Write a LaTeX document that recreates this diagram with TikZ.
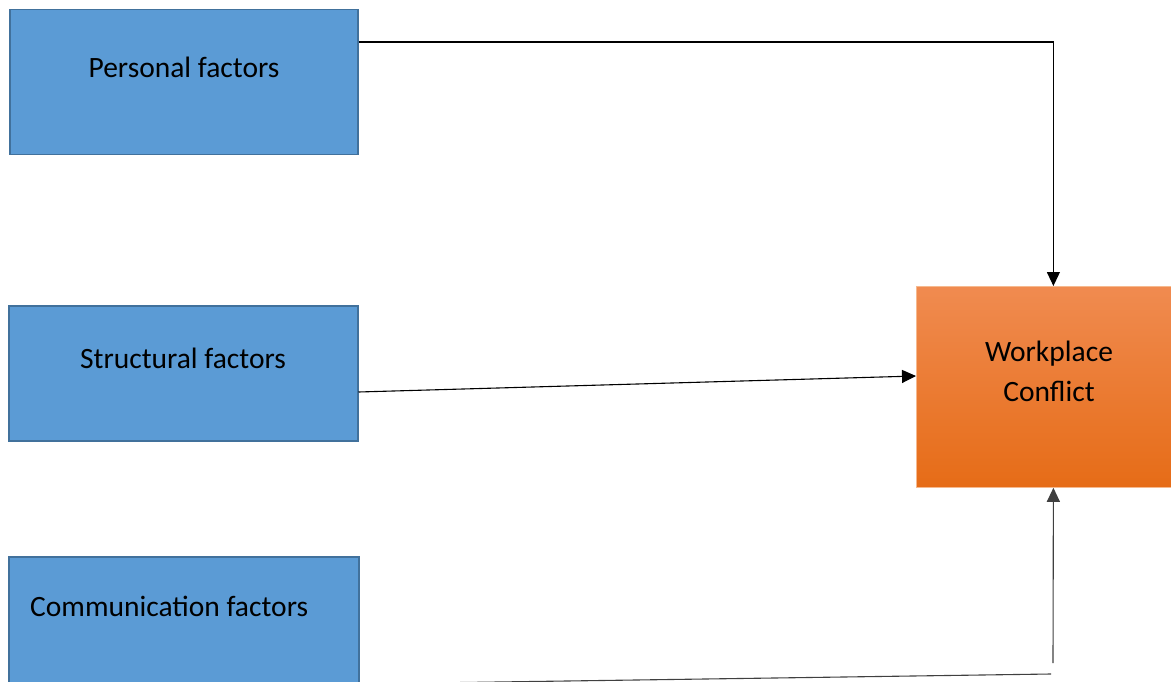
\documentclass[tikz,border=0pt]{standalone}
\usepackage{fontspec}
\setmainfont{Carlito}
\usetikzlibrary{arrows.meta,calc}
\definecolor{boxblue}{HTML}{5B9BD5}
\definecolor{boxedge}{HTML}{41719C}
\definecolor{orangetop}{HTML}{F08B50}
\definecolor{orangemid}{HTML}{F27B2A}
\definecolor{orangebot}{HTML}{E66C17}
\definecolor{orangeedge}{HTML}{F6B98E}

\begin{document}
\begin{tikzpicture}[x=1pt,y=-1pt,
  factor/.style={rectangle,draw=boxedge,line width=1.5pt,fill=boxblue,
    inner sep=0pt,anchor=north west},
  outcome/.style={rectangle,draw=orangeedge,line width=0.8pt,
    top color=orangetop,middle color=orangemid,bottom color=orangebot,
    inner sep=0pt,anchor=north west},
  caption/.style={font=\fontsize{29.5}{40}\selectfont,inner sep=0pt},
  link/.style={line width=1.1pt},
  tip/.style={-{Triangle[length=14pt,width=13pt]}}]
\useasboundingbox (0,0) rectangle (1171,682);

% factor boxes
\node[factor,minimum width=348pt,minimum height=145pt] (p) at (9,9) {};
\node[factor,minimum width=349pt,minimum height=135pt] (s) at (8,305) {};
\node[factor,minimum width=350pt,minimum height=150pt] (c) at (8,556) {};

% outcome box
\node[outcome,minimum width=255pt,minimum height=201pt] (w) at (916,286) {};

% captions
\node[caption] (pt) at (184,67) {Personal factors};
\node[caption] (st) at (183,358) {Structural factors};
\node[caption,anchor=west] (ct) at (30,606) {Communication factors};
\node[caption,align=center] (wt) at (1049,371) {Workplace\\Conflict};

% connectors
\draw[link,tip] (p.east |- 0,42) -| ($(w.north)+(9.5,0)$);
\draw[link,tip] (s.east |- 0,392) -- (w.west |- 0,376);
\coordinate (cend) at (1051,674);
\draw[link,black!75] (c.east |- 0,684) -- (cend);
\coordinate (crise) at (1053,663);
\draw[link,tip,black!75] (crise) -- ($(w.south)+(9.5,0)$);
\end{tikzpicture}
\end{document}
